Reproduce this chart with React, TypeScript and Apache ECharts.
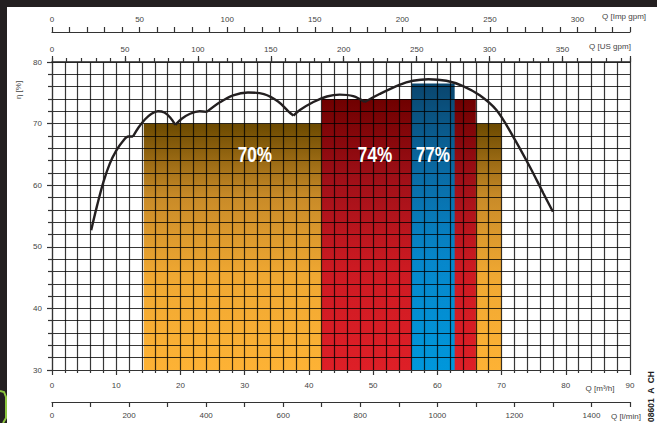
import React, { useEffect, useRef } from "react";
import * as echarts from "echarts";

// ---- data ----
const qMin = 0;
const qMax = 90; // m3/h
const etaMin = 30;
const etaMax = 80;
const impPerM3h = 3.66615;
const usPerM3h = 4.40287;
const lminMax = 1500;

const barStart = [14.3, 42.0, 56.0];
const barEnd = [70.0, 66.0, 62.7];
const barTop = [70, 74, 76.5];
const barLabel = ["70%", "74%", "77%"];
const labelX = [31.6, 50.3, 59.3];
const labelY = [65, 65, 65];
const barStops = [
  ["#6b4900", "#c98b28", "#f0a832", "#fdb235"],
  ["#6f0000", "#a01018", "#cc1a22", "#de1f27"],
  ["#0a466e", "#0a6aa3", "#0687cb", "#0097db"],
];

const seg1 = [[6.1, 52.7], [7.0, 56.6], [8.0, 60.5], [9.0, 63.5], [10.0, 65.6], [11.0, 67.1], [11.9, 67.9], [12.6, 67.9]];
const seg2 = [[12.6, 67.9], [13.5, 69.4], [14.5, 70.7], [15.5, 71.6], [16.5, 72.0], [17.5, 71.8], [18.4, 71.0], [19.2, 69.8]];
const seg3 = [[19.2, 69.8], [20.2, 70.8], [21.5, 71.6], [23.0, 72.0], [24.1, 71.9]];
const seg4 = [[24.1, 71.9], [26.2, 73.5], [28.2, 74.6], [30.5, 75.05], [33.0, 74.8], [35.2, 73.6], [36.8, 72.0], [37.6, 71.3]];
const seg5 = [[37.6, 71.3], [38.6, 72.2], [40.7, 73.5], [42.8, 74.4], [44.8, 74.7], [46.9, 74.45], [48.7, 73.5]];
const seg6 = [[48.7, 73.5], [51.0, 74.8], [54.1, 76.3], [56.2, 76.95], [58.6, 77.2], [61.4, 76.95], [64.0, 76.1], [66.6, 74.6], [69.2, 72.2], [71.8, 67.9], [74.4, 63.0], [76.5, 58.7], [78.0, 55.7]];
const curveSegments = [seg1, seg2, seg3, seg4, seg5, seg6];

const FONT = "Liberation Sans, Arial, Helvetica, sans-serif";
const LABEL_COLOR = "#444";
const GRID_LINE = { color: "rgba(0,0,0,0.78)", width: 1.2 };
const TICK = { color: "#333", width: 1.2 };

export default function App() {
  const ref = useRef<HTMLDivElement>(null);

  useEffect(() => {
    document.body.style.margin = "0";
    const chart = echarts.init(ref.current!, null, { renderer: "svg" });

    const lbl = (show: (v: number) => boolean, margin: number) => ({
      fontSize: 8,
      color: LABEL_COLOR,
      fontFamily: FONT,
      margin,
      formatter: (v: number) => (show(v) ? String(Math.round(v)) : ""),
    });

    const option: any = {
      animation: false,
      backgroundColor: "#fff",
      textStyle: { fontFamily: FONT },
      grid: { left: 52, top: 62, width: 578, height: 308, containLabel: false },
      xAxis: [
        {
          type: "value",
          min: qMin,
          max: qMax,
          interval: 10,
          position: "bottom",
          z: 3,
          axisLine: { show: true, lineStyle: TICK },
          axisTick: { show: true, length: 5, lineStyle: TICK },
          minorTick: { show: true, splitNumber: 5, length: 3, lineStyle: TICK },
          splitLine: { show: true, lineStyle: GRID_LINE },
          minorSplitLine: { show: true, lineStyle: GRID_LINE },
          axisLabel: lbl(() => true, 11),
        },
        {
          type: "value",
          min: 0,
          max: lminMax,
          interval: 100,
          position: "bottom",
          offset: 32,
          axisLine: { show: true, lineStyle: TICK },
          axisTick: { show: true, length: 5, lineStyle: TICK },
          splitLine: { show: false },
          axisLabel: lbl((v) => v % 200 === 0 && v < lminMax, 9),
        },
        {
          type: "value",
          min: 0,
          max: qMax * impPerM3h,
          interval: 10,
          position: "top",
          offset: 30,
          axisLine: { show: true, lineStyle: TICK },
          axisTick: { show: true, length: 5, lineStyle: TICK },
          splitLine: { show: false },
          axisLabel: lbl((v) => Math.abs(v % 50) < 1e-6, 9),
        },
        {
          type: "value",
          min: 0,
          max: qMax * usPerM3h,
          interval: 10,
          position: "top",
          offset: 0,
          z: 4,
          axisLine: { show: true, lineStyle: { color: "#222", width: 1.6 } },
          axisTick: { show: true, length: 4, lineStyle: TICK },
          splitLine: { show: false },
          axisLabel: { show: false },
        },
        {
          type: "value",
          min: 0,
          max: qMax * usPerM3h,
          interval: 50,
          position: "top",
          offset: 0,
          axisLine: { show: false },
          axisTick: { show: true, length: 6, lineStyle: TICK },
          splitLine: { show: false },
          axisLabel: lbl((v) => Math.abs(v % 50) < 1e-6, 9),
        },
      ],
      yAxis: {
        type: "value",
        min: etaMin,
        max: etaMax,
        interval: 10,
        z: 3,
        axisLine: { show: true, lineStyle: TICK },
        axisTick: { show: true, length: 5, lineStyle: TICK },
        minorTick: { show: true, splitNumber: 5, length: 4, lineStyle: TICK },
        splitLine: { show: true, lineStyle: GRID_LINE },
        minorSplitLine: { show: true, lineStyle: GRID_LINE },
        axisLabel: { fontSize: 8, color: LABEL_COLOR, fontFamily: FONT, margin: 10 },
      },
      series: [
        {
          type: "custom",
          z: 2,
          xAxisIndex: 0,
          yAxisIndex: 0,
          data: barStart.map((s, i) => [s, barEnd[i], barTop[i], i]),
          renderItem: (params: any, api: any) => {
            const x0 = api.value(0);
            const x1 = api.value(1);
            const top = api.value(2);
            const idx = api.value(3);
            const p0 = api.coord([x0, top]);
            const p1 = api.coord([x1, etaMin]);
            const st = barStops[idx];
            return {
              type: "rect",
              shape: { x: p0[0], y: p0[1], width: p1[0] - p0[0], height: p1[1] - p0[1] },
              style: {
                fill: new echarts.graphic.LinearGradient(0, 0, 0, 1, [
                  { offset: 0, color: st[0] },
                  { offset: 0.3, color: st[1] },
                  { offset: 0.62, color: st[2] },
                  { offset: 1, color: st[3] },
                ]),
              },
            };
          },
          silent: true,
        },
        ...curveSegments.map((seg) => ({
          type: "line",
          z: 5,
          xAxisIndex: 0,
          yAxisIndex: 0,
          data: seg,
          smooth: 0.35,
          symbol: "none",
          lineStyle: { color: "#231f20", width: 2.4 },
          silent: true,
        })),
        {
          type: "custom",
          z: 6,
          xAxisIndex: 0,
          yAxisIndex: 0,
          data: labelX.map((x, i) => [x, labelY[i], i]),
          renderItem: (params: any, api: any) => {
            const p = api.coord([api.value(0), api.value(1)]);
            return {
              type: "text",
              x: p[0],
              y: p[1],
              scaleX: 0.78,
              style: {
                text: barLabel[api.value(2)],
                fill: "#fff",
                fontSize: 22,
                fontWeight: "bold",
                fontFamily: FONT,
                align: "center",
                verticalAlign: "middle",
              },
            };
          },
          silent: true,
        },
      ],
      graphic: [
        { type: "rect", shape: { x: 0, y: 0, width: 657, height: 7 }, style: { fill: "#231f20" }, z: 10 },
        { type: "rect", shape: { x: 0, y: 0, width: 7, height: 423 }, style: { fill: "#231f20" }, z: 10 },
        {
          type: "polyline",
          shape: { points: [[0, 391], [4, 392], [6, 397], [6, 418], [3, 423]] },
          style: { stroke: "#8cc63f", lineWidth: 2, fill: "none" },
          z: 11,
        },
        {
          type: "text",
          x: 18,
          y: 90,
          rotation: Math.PI / 2,
          style: { text: "η [%]", fontSize: 8, fill: LABEL_COLOR, fontFamily: FONT, align: "center", verticalAlign: "middle" },
        },
        {
          type: "text",
          x: 600,
          y: 388,
          style: { text: "Q [m³/h]", fontSize: 8, fill: LABEL_COLOR, fontFamily: FONT, align: "center", verticalAlign: "middle" },
        },
        {
          type: "text",
          x: 626,
          y: 416,
          style: { text: "Q [l/min]", fontSize: 8, fill: LABEL_COLOR, fontFamily: FONT, align: "center", verticalAlign: "middle" },
        },
        {
          type: "text",
          x: 624,
          y: 16,
          style: { text: "Q [Imp gpm]", fontSize: 8, fill: LABEL_COLOR, fontFamily: FONT, align: "center", verticalAlign: "middle" },
        },
        {
          type: "text",
          x: 610,
          y: 46,
          style: { text: "Q [US gpm]", fontSize: 8, fill: LABEL_COLOR, fontFamily: FONT, align: "center", verticalAlign: "middle" },
        },
        {
          type: "text",
          x: 651,
          y: 371,
          rotation: Math.PI / 2,
          style: { text: "08601  A  CH", fontSize: 8.5, fontWeight: "bold", fill: "#222", fontFamily: FONT, align: "right", verticalAlign: "middle" },
        },
      ],
    };

    chart.setOption(option);
    return () => chart.dispose();
  }, []);

  return <div ref={ref} style={{ width: 657, height: 423 }} />;
}
